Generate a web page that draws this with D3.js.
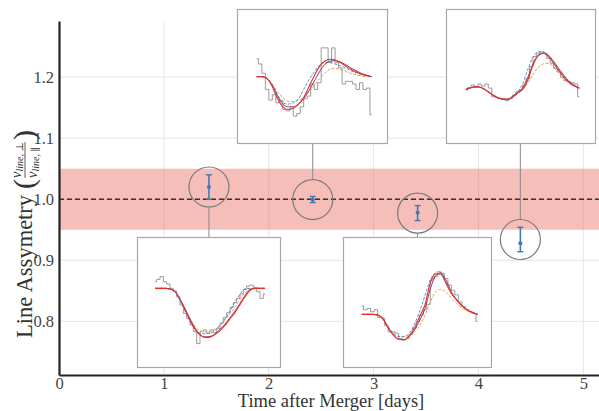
<!DOCTYPE html>
<html><head><meta charset="utf-8">
<script src="https://cdn.jsdelivr.net/npm/d3@7"></script>
<style>body{margin:0;background:#fff}svg{display:block}svg text{font-family:'Liberation Serif','DejaVu Serif',serif}</style>
</head><body>
<svg id="c" width="599" height="411"></svg>
<script>
// ---- data ----
const days = [1.43, 2.42, 3.42, 4.40];
const asym = [1.020, 0.999, 0.978, 0.928];
const errUp = [0.020, 0.0055, 0.0115, 0.026];
const errDown = [0.020, 0.0045, 0.013, 0.014];
const xTicks = [0, 1, 2, 3, 4, 5];
const yTicks = [0.8, 0.9, 1.0, 1.1, 1.2];
const bandLow = 0.95, bandHigh = 1.05, refLine = 1.0;

// inset profiles (x = fraction of inset width, y = fraction of inset height)
const inset1Range = [0.126, 0.895];
const inset1Red = [0.605,0.605,0.605,0.60,0.58,0.52,0.44,0.36,0.29,0.245,0.228,0.23,0.25,0.28,0.32,0.37,0.42,0.48,0.54,0.59,0.605,0.605,0.605];
const inset1Maroon = [0.605,0.605,0.605,0.60,0.58,0.52,0.45,0.37,0.30,0.25,0.232,0.235,0.255,0.29,0.33,0.38,0.43,0.49,0.55,0.595,0.605,0.605,0.605];
const inset1Blue = [0.605,0.605,0.605,0.60,0.575,0.51,0.43,0.35,0.29,0.26,0.255,0.26,0.28,0.32,0.37,0.43,0.50,0.56,0.60,0.605,0.605,0.605,0.605];
const inset1Orange = [0.605,0.605,0.605,0.60,0.58,0.52,0.44,0.37,0.31,0.28,0.27,0.275,0.29,0.32,0.36,0.41,0.46,0.52,0.57,0.60,0.605,0.605,0.605];
const inset1Data = [0.656,0.674,0.695,0.656,0.638,0.605,0.585,0.54,0.477,0.413,0.374,0.323,0.272,0.18,0.272,0.285,0.26,0.285,0.264,0.297,0.336,0.382,0.418,0.459,0.495,0.528,0.562,0.597,0.623,0.63,0.613,0.579,0.528,0.562];

const inset2Range = [0.131, 0.898];
const inset2Red = [0.495,0.495,0.48,0.42,0.33,0.27,0.25,0.26,0.29,0.34,0.42,0.50,0.57,0.61,0.625,0.62,0.60,0.575,0.55,0.53,0.515,0.505,0.495];
const inset2Maroon = [0.495,0.495,0.48,0.43,0.35,0.29,0.27,0.27,0.29,0.33,0.39,0.46,0.53,0.585,0.61,0.615,0.605,0.585,0.56,0.54,0.52,0.505,0.495];
const inset2Blue = [0.495,0.495,0.48,0.43,0.36,0.30,0.29,0.30,0.33,0.40,0.47,0.53,0.58,0.60,0.60,0.59,0.575,0.56,0.54,0.525,0.51,0.50,0.495];
const inset2Orange = [0.495,0.495,0.48,0.44,0.38,0.34,0.31,0.31,0.32,0.34,0.38,0.43,0.48,0.52,0.55,0.557,0.55,0.535,0.52,0.51,0.50,0.495,0.495];
const inset2Data = [0.63,0.59,0.52,0.40,0.32,0.36,0.30,0.32,0.25,0.24,0.26,0.20,0.22,0.27,0.33,0.35,0.44,0.40,0.45,0.71,0.71,0.60,0.71,0.60,0.56,0.44,0.46,0.46,0.44,0.40,0.45,0.40,0.41,0.21];

const inset3Range = [0.127, 0.91];
const inset3Red = [0.405,0.405,0.405,0.40,0.374,0.30,0.245,0.213,0.208,0.24,0.30,0.39,0.48,0.645,0.715,0.715,0.645,0.567,0.515,0.47,0.44,0.42,0.405];
const inset3Maroon = [0.405,0.405,0.405,0.40,0.37,0.30,0.245,0.213,0.21,0.235,0.285,0.36,0.45,0.60,0.70,0.725,0.665,0.58,0.52,0.475,0.44,0.42,0.405];
const inset3Blue = [0.405,0.405,0.405,0.40,0.37,0.31,0.26,0.235,0.235,0.26,0.33,0.43,0.55,0.67,0.72,0.71,0.64,0.565,0.515,0.47,0.44,0.42,0.405];
const inset3Orange = [0.405,0.405,0.405,0.40,0.37,0.31,0.26,0.235,0.23,0.24,0.27,0.32,0.40,0.50,0.575,0.597,0.575,0.53,0.49,0.455,0.43,0.415,0.405];
const inset3Data = [0.47,0.44,0.45,0.425,0.44,0.38,0.375,0.32,0.27,0.27,0.26,0.22,0.21,0.22,0.25,0.30,0.35,0.40,0.44,0.48,0.67,0.695,0.733,0.72,0.68,0.63,0.59,0.555,0.50,0.465,0.44,0.425,0.41,0.35];

const inset4Range = [0.134, 0.895];
const inset4Red = [0.40,0.413,0.42,0.413,0.39,0.363,0.34,0.328,0.326,0.346,0.376,0.40,0.47,0.58,0.65,0.67,0.645,0.595,0.54,0.49,0.45,0.425,0.408];
const inset4Maroon = [0.40,0.413,0.42,0.413,0.39,0.363,0.34,0.328,0.326,0.34,0.37,0.41,0.49,0.59,0.655,0.67,0.655,0.61,0.555,0.505,0.46,0.43,0.41];
const inset4Blue = [0.40,0.413,0.42,0.413,0.39,0.363,0.34,0.328,0.326,0.346,0.38,0.44,0.55,0.64,0.68,0.68,0.65,0.60,0.545,0.495,0.455,0.43,0.41];
const inset4Orange = [0.40,0.415,0.42,0.415,0.395,0.37,0.345,0.33,0.326,0.34,0.37,0.40,0.45,0.51,0.565,0.59,0.595,0.57,0.53,0.49,0.455,0.43,0.41];
const inset4Data = [0.395,0.415,0.433,0.415,0.44,0.425,0.44,0.41,0.346,0.34,0.333,0.326,0.316,0.33,0.358,0.383,0.40,0.433,0.48,0.57,0.645,0.67,0.68,0.67,0.63,0.595,0.557,0.53,0.49,0.465,0.458,0.45,0.44,0.346];

// ---- layout ----
const svg = d3.select("#c");
const W = 599, H = 411;
const x = d3.scaleLinear().domain([0, 5.15]).range([59, 599]);
const y = d3.scaleLinear().domain([0.712, 1.292]).range([375, 21]);
const serif = "'Liberation Serif','DejaVu Serif',serif";

// grid
const grid = svg.append("g");
grid.selectAll("line.v").data(xTicks.slice(1)).join("line")
  .attr("x1", d => x(d)).attr("x2", d => x(d)).attr("y1", y.range()[1]).attr("y2", y.range()[0])
  .attr("stroke", "#e6e6e6").attr("stroke-width", 1);
grid.selectAll("line.h").data(yTicks).join("line")
  .attr("x1", x.range()[0]).attr("x2", W).attr("y1", d => y(d)).attr("y2", d => y(d))
  .attr("stroke", "#e6e6e6").attr("stroke-width", 1);

// band
svg.append("rect").attr("x", x.range()[0]).attr("width", W - x.range()[0])
  .attr("y", y(bandHigh)).attr("height", y(bandLow) - y(bandHigh))
  .attr("fill", "rgb(232,110,100)").attr("opacity", 0.45);
svg.append("line").attr("x1", x.range()[0]).attr("x2", W)
  .attr("y1", y(refLine)).attr("y2", y(refLine))
  .attr("stroke", "#3a3030").attr("stroke-width", 1.6).attr("stroke-dasharray", "5,3");

// insets
const insets = [
  {box: [137, 237, 143, 130], below: true, range: inset1Range, red: inset1Red, maroon: inset1Maroon, blue: inset1Blue, orange: inset1Orange, data: inset1Data},
  {box: [237, 9, 150, 134], below: false, range: inset2Range, red: inset2Red, maroon: inset2Maroon, blue: inset2Blue, orange: inset2Orange, data: inset2Data},
  {box: [343, 237, 148, 130], below: true, range: inset3Range, red: inset3Red, maroon: inset3Maroon, blue: inset3Blue, orange: inset3Orange, data: inset3Data},
  {box: [446, 9, 149, 134], below: false, range: inset4Range, red: inset4Red, maroon: inset4Maroon, blue: inset4Blue, orange: inset4Orange, data: inset4Data}
];
const R = 20;

insets.forEach((ins, i) => {
  const [bx, by, bw, bh] = ins.box;
  const cx = x(days[i]);
  const cy = (y(asym[i] + errUp[i]) + y(asym[i] - errDown[i])) / 2;
  if (ins.below) {
    svg.append("line").attr("x1", cx).attr("x2", cx).attr("y1", cy + R).attr("y2", by)
      .attr("stroke", "#8a8a8a").attr("stroke-width", 1);
  } else {
    svg.append("line").attr("x1", cx).attr("x2", cx).attr("y1", by + bh).attr("y2", cy - R)
      .attr("stroke", "#8a8a8a").attr("stroke-width", 1);
  }
  const g = svg.append("g").attr("transform", `translate(${bx},${by})`);
  g.append("rect").attr("x", 0.5).attr("y", 0.5).attr("width", bw).attr("height", bh)
    .attr("fill", "#fff").attr("stroke", "#a8a8a8").attr("stroke-width", 1.2);
  const sx = d3.scaleLinear().domain([0, 1]).range([0, bw]);
  const sy = d3.scaleLinear().domain([0, 1]).range([bh, 0]);
  const xAt = (n) => d3.scaleLinear().domain([0, n - 1]).range(ins.range);
  const mk = (arr, curve) => {
    const xi = xAt(arr.length);
    return d3.line().x((d, j) => sx(xi(j))).y(d => sy(d)).curve(curve)(arr);
  };
  g.append("path").attr("d", mk(ins.data, d3.curveStep)).attr("fill", "none")
    .attr("stroke", "#909090").attr("stroke-width", 0.9);
  g.append("path").attr("d", mk(ins.orange, d3.curveMonotoneX)).attr("fill", "none")
    .attr("stroke", "#f0a050").attr("stroke-width", 1).attr("stroke-dasharray", "3,1.5");
  g.append("path").attr("d", mk(ins.blue, d3.curveMonotoneX)).attr("fill", "none")
    .attr("stroke", "#5a8fc8").attr("stroke-width", 1).attr("stroke-dasharray", "3,1.5");
  g.append("path").attr("d", mk(ins.maroon, d3.curveMonotoneX)).attr("fill", "none")
    .attr("stroke", "#7b2d5a").attr("stroke-width", 0.9);
  g.append("path").attr("d", mk(ins.red, d3.curveMonotoneX)).attr("fill", "none")
    .attr("stroke", "#e8302a").attr("stroke-width", 1.1);

  svg.append("circle").attr("cx", cx).attr("cy", cy).attr("r", R)
    .attr("fill", "none").attr("stroke", "#7a7a7a").attr("stroke-width", 1.2);
});

// error bars & points
const pts = svg.append("g");
days.forEach((d, i) => {
  const px = x(d), top = y(asym[i] + errUp[i]), bot = y(asym[i] - errDown[i]);
  pts.append("line").attr("x1", px).attr("x2", px).attr("y1", top).attr("y2", bot)
    .attr("stroke", "#3f78b8").attr("stroke-width", 1.6);
  [top, bot].forEach(v => pts.append("line").attr("x1", px - 3).attr("x2", px + 3)
    .attr("y1", v).attr("y2", v).attr("stroke", "#3f78b8").attr("stroke-width", 1.4));
  pts.append("circle").attr("cx", px).attr("cy", y(asym[i])).attr("r", 2).attr("fill", "#3f78b8");
});

// axes
const xAxis = d3.axisBottom(x).tickValues(xTicks).tickSize(0).tickPadding(2).tickFormat(d3.format("d"));
const gx = svg.append("g").attr("transform", `translate(0,${y.range()[0]})`).call(xAxis);
gx.attr("font-family", null);
gx.select(".domain").attr("stroke", "#222").attr("stroke-width", 2.2);
gx.selectAll("text").style("font-family", serif).style("font-size", "16.5px").attr("fill", "#444");

const yAxis = d3.axisLeft(y).tickValues(yTicks).tickSize(0).tickPadding(5).tickFormat(d3.format(".1f"));
const gy = svg.append("g").attr("transform", `translate(${x.range()[0]},0)`).call(yAxis);
gy.attr("font-family", null);
gy.select(".domain").attr("stroke", "#222").attr("stroke-width", 2.2);
gy.selectAll("text").style("font-family", serif).style("font-size", "16.5px").attr("fill", "#444");

// x title
svg.append("text").attr("x", 331).attr("y", 407).attr("text-anchor", "middle")
  .style("font-family", serif).style("font-size", "18.5px").attr("fill", "#333")
  .text("Time after Merger [days]");

// y title
const yt = svg.append("g").attr("transform", "translate(32,338) rotate(-90)").attr("fill", "#333");
const main = yt.append("text").attr("x", 0).attr("y", 0).style("font-size", "22.5px").text("Line Assymetry");
const L = main.node().getComputedTextLength();
const p0 = L + 6;
yt.append("text").attr("x", p0).attr("y", 2).style("font-size", "30px").text("(");
const fx = p0 + 11;
const num = yt.append("text").attr("x", fx).attr("y", -11).style("font-style", "italic").style("font-size", "14.5px");
num.append("tspan").text("v");
num.append("tspan").style("font-size", "10px").attr("dy", 2).text("line, ⊥");
const den = yt.append("text").attr("x", fx).attr("y", 5).style("font-style", "italic").style("font-size", "14.5px");
den.append("tspan").text("v");
den.append("tspan").style("font-size", "10px").attr("dy", 2).text("line, ∥");
const fw = Math.max(num.node().getComputedTextLength(), den.node().getComputedTextLength());
yt.append("line").attr("x1", fx).attr("x2", fx + fw).attr("y1", -7).attr("y2", -7)
  .attr("stroke", "#333").attr("stroke-width", 0.8);
yt.append("text").attr("x", fx + fw + 2).attr("y", 2).style("font-size", "30px").text(")");
</script>
</body></html>
